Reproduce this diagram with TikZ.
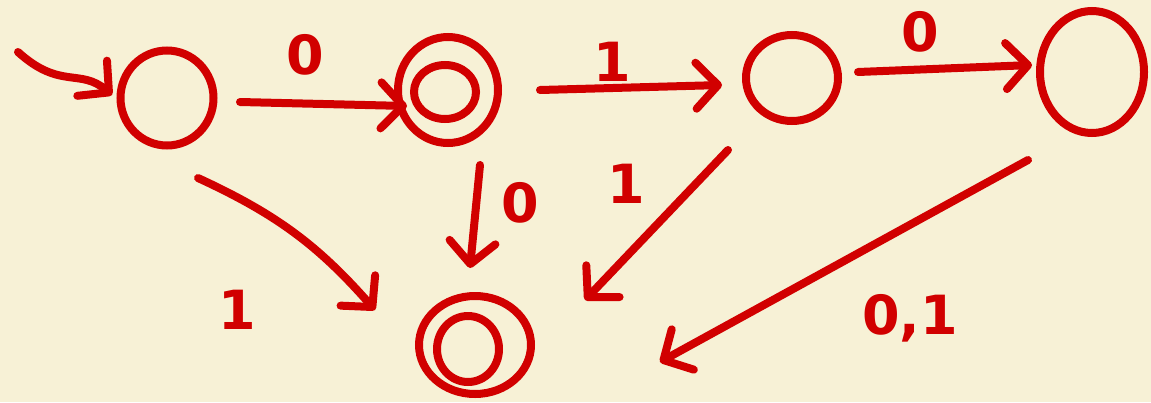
\documentclass[tikz,border=0pt]{standalone}
\usepackage{fontspec}
\setmainfont{DejaVu Sans}
\usetikzlibrary{shapes.geometric,arrows.meta}
\definecolor{bg}{HTML}{F7F1D6}
\definecolor{ink}{HTML}{D10000}
\begin{document}
\begin{tikzpicture}[x=1pt,y=-1pt,
  st/.style={ellipse,draw=ink,line width=8pt,inner sep=0pt},
  arr/.style={draw=ink,line width=8pt,line cap=round,line join=round,-{Straight Barb[length=22pt,width=46pt,round]}},
  lbl/.style={text=ink,font=\fontsize{54}{54}\selectfont\bfseries,inner sep=0pt}]
\fill[bg] (0,0) rectangle (1151,402);
\useasboundingbox (0,0) rectangle (1151,402);
% states
\node[st,minimum width=93pt,minimum height=95pt] (q0) at (167,98) {};
\node[st,minimum width=100pt,minimum height=106pt] (q1) at (448,90) {};
\node[st,minimum width=62pt,minimum height=54pt] (q1i) at (445,92) {};
\node[st,minimum width=92pt,minimum height=86pt] (q2) at (792,78) {};
\node[st,minimum width=104pt,minimum height=122pt] (q3) at (1092,72) {};
\node[st,minimum width=112pt,minimum height=98pt] (q4) at (475,345) {};
\node[st,minimum width=62pt,minimum height=66pt] (q4i) at (468,349) {};
% initial arrow
\coordinate (init) at (18,52);
\draw[arr] (init) .. controls (60,90) and (80,68) .. ([shift={(-55,-3)}]q0.center);
% transitions
\draw[arr] ([shift={(73,4)}]q0.center) -- ([shift={(-41,16)}]q1.center);
\draw[arr] ([shift={(92,0)}]q1.center) -- ([shift={(-70,7)}]q2.center);
\draw[arr] ([shift={(66,-6)}]q2.center) -- ([shift={(-60,-7)}]q3.center);
\draw[arr] ([shift={(31,80)}]q0.center) to[bend left=12] ([shift={(-100,-35)}]q4.center);
\draw[arr] ([shift={(32,75)}]q1.center) -- ([shift={(-5,-77)}]q4.center);
\draw[arr] ([shift={(-64,72)}]q2.center) -- ([shift={(110,-45)}]q4.center);
\draw[arr] ([shift={(-64,88)}]q3.center) -- ([shift={(185,17)}]q4.center);
% labels
\node[lbl] (l01) at (305,55) {0};
\node[lbl] (l12) at (612,62) {1};
\node[lbl] (l23) at (920,32) {0};
\node[lbl] (l04) at (237,310) {1};
\node[lbl] (l14) at (520,203) {0};
\node[lbl] (l24) at (626,184) {1};
\node[lbl] (l34) at (910,318) {0,1};
\end{tikzpicture}
\end{document}
